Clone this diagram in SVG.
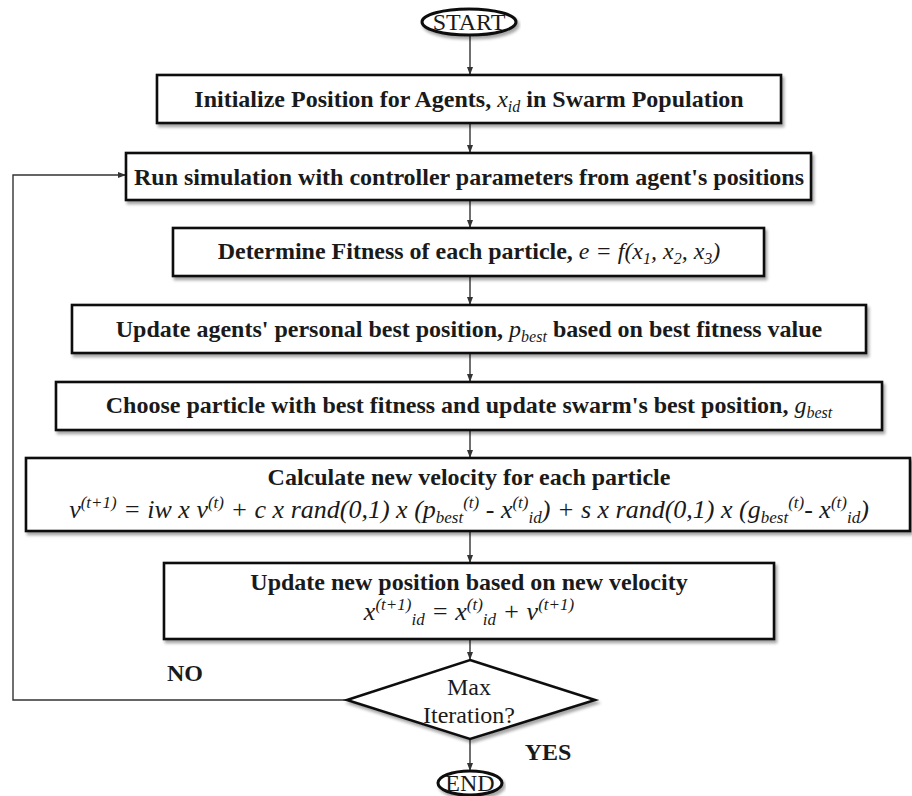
<svg xmlns="http://www.w3.org/2000/svg" width="912" height="796" viewBox="0 0 912 796">
<style>
.box{fill:#fff;stroke:#111;stroke-width:2.6;filter:url(#sh)}
.term{fill:#fff;stroke:#111;stroke-width:3;filter:url(#sh)}
.t{font-family:"Liberation Serif","Times New Roman",serif;font-size:24px;font-weight:bold;fill:#1a1a1a;text-anchor:middle}
.r{font-weight:normal}
.i{font-style:italic;font-weight:normal}
.f{font-size:26px}
.s{font-size:16px}
.f .s{font-size:17px}
.con{fill:none;stroke:#333;stroke-width:1.4;marker-end:url(#ah)}
</style>
<defs>
<filter id="sh" x="-5%" y="-20%" width="110%" height="150%">
<feDropShadow dx="2" dy="3" stdDeviation="1.5" flood-color="#000" flood-opacity="0.35"/>
</filter>
<marker id="ah" markerUnits="userSpaceOnUse" markerWidth="8" markerHeight="8" viewBox="0 0 8 8" refX="8" refY="4" orient="auto">
<path d="M0,1 L8,4 L0,7 Z" fill="#333"/>
</marker>
</defs>
<g id="connectors">
<line class="con" x1="470" y1="35" x2="470" y2="75"/>
<line class="con" x1="470" y1="123" x2="470" y2="153"/>
<line class="con" x1="470" y1="200" x2="470" y2="228"/>
<line class="con" x1="470" y1="276" x2="470" y2="305"/>
<line class="con" x1="470" y1="353" x2="470" y2="382"/>
<line class="con" x1="470" y1="430" x2="470" y2="458"/>
<line class="con" x1="470" y1="531" x2="470" y2="563"/>
<line class="con" x1="470" y1="639" x2="470" y2="660"/>
<line class="con" x1="470" y1="739" x2="470" y2="771"/>
<polyline class="con" points="347,700 13,700 13,175 126,175"/>
</g>
<g id="start">
<ellipse class="term" cx="469" cy="22" rx="47" ry="13"/>
<text class="t r" x="469" y="30" font-size="23">START</text>
</g>
<g id="init">
<rect class="box" x="157" y="75" width="624" height="48"/>
<text class="t" x="469" y="107">Initialize Position for Agents, <tspan class="i">x</tspan><tspan class="i s" dy="5">id</tspan><tspan dy="-5"> in Swarm Population</tspan></text>
</g>
<g id="run">
<rect class="box" x="126" y="153" width="685" height="47"/>
<text class="t" x="469" y="185">Run simulation with controller parameters from agent's positions</text>
</g>
<g id="fitness">
<rect class="box" x="173" y="228" width="591" height="48"/>
<text class="t" x="469" y="259">Determine Fitness of each particle, <tspan class="i">e = f(x</tspan><tspan class="i s" dy="5">1</tspan><tspan class="i" dy="-5">, x</tspan><tspan class="i s" dy="5">2</tspan><tspan class="i" dy="-5">, x</tspan><tspan class="i s" dy="5">3</tspan><tspan class="i" dy="-5">)</tspan></text>
</g>
<g id="pbest">
<rect class="box" x="72" y="305" width="794" height="48"/>
<text class="t" x="469" y="337">Update agents' personal best position, <tspan class="i">p</tspan><tspan class="i s" dy="5">best</tspan><tspan dy="-5"> based on best fitness value</tspan></text>
</g>
<g id="gbest">
<rect class="box" x="56" y="382" width="826" height="48"/>
<text class="t" x="469" y="413">Choose particle with best fitness and update swarm's best position, <tspan class="i">g</tspan><tspan class="i s" dy="5">best</tspan></text>
</g>
<g id="velocity">
<rect class="box" x="26" y="458" width="884" height="73"/>
<text class="t" x="469" y="485">Calculate new velocity for each particle</text>
<text class="t i f" x="469" y="518">v<tspan class="s" dy="-10">(t+1)</tspan><tspan dy="10"> = iw </tspan><tspan class="r">x</tspan> v<tspan class="s" dy="-10">(t)</tspan><tspan dy="10"> + c </tspan><tspan class="r">x</tspan> rand(0,1) <tspan class="r">x</tspan> (p<tspan class="s" dy="5">best</tspan><tspan class="s" dy="-15">(t)</tspan><tspan dy="10"> - x</tspan><tspan class="s" dy="-10">(t)</tspan><tspan class="s" dy="15">id</tspan><tspan dy="-5">) + s </tspan><tspan class="r">x</tspan> rand(0,1) <tspan class="r">x</tspan> (g<tspan class="s" dy="5">best</tspan><tspan class="s" dy="-15">(t)</tspan><tspan dy="10">- x</tspan><tspan class="s" dy="-10">(t)</tspan><tspan class="s" dy="15">id</tspan><tspan dy="-5">)</tspan></text>
</g>
<g id="position">
<rect class="box" x="164" y="563" width="610" height="76"/>
<text class="t" x="469" y="590">Update new position based on new velocity</text>
<text class="t i f" x="469" y="620">x<tspan class="s" dy="-10">(t+1)</tspan><tspan class="s" dy="15">id</tspan><tspan dy="-5"> = x</tspan><tspan class="s" dy="-10">(t)</tspan><tspan class="s" dy="15">id</tspan><tspan dy="-5"> + v</tspan><tspan class="s" dy="-10">(t+1)</tspan></text>
</g>
<g id="decision">
<polygon class="box" points="470,660 595,700 470,739 347,700"/>
<text class="t r" x="469" y="695">Max</text>
<text class="t r" x="469" y="723">Iteration?</text>
</g>
<g id="labels">
<text class="t" x="185" y="681">NO</text>
<text class="t" x="548" y="760">YES</text>
</g>
<g id="end">
<ellipse class="term" cx="470" cy="783" rx="32" ry="12"/>
<text class="t r" x="470" y="791" font-size="23">END</text>
</g>
</svg>
